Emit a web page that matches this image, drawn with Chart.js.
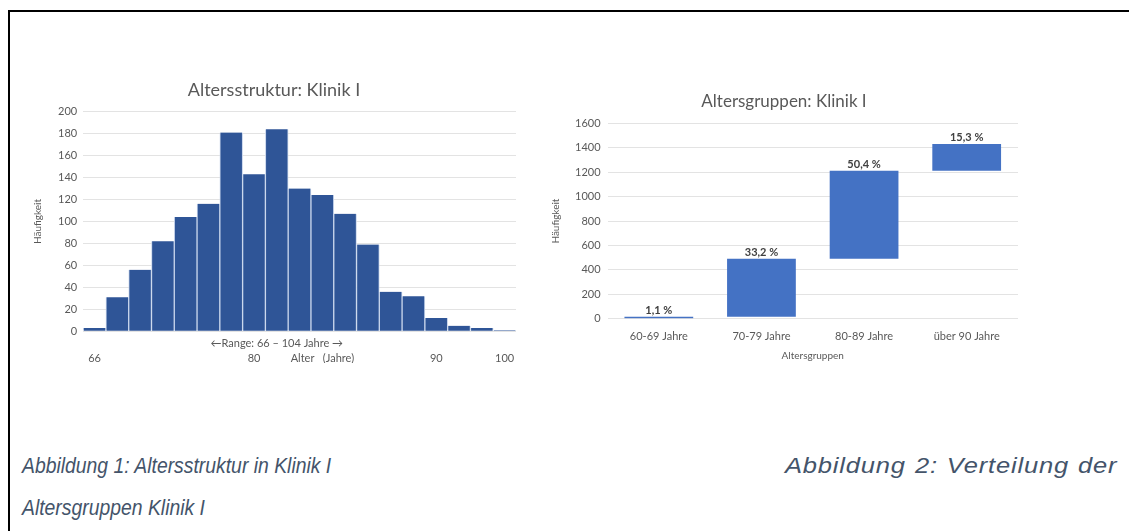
<!DOCTYPE html>
<html>
<head>
<meta charset="utf-8">
<script src="https://cdn.jsdelivr.net/npm/chart.js@4"></script>
<style>
  html, body { margin:0; padding:0; background:#fff; width:1129px; height:531px; overflow:hidden; }
  #frame { position:absolute; left:8px; top:10px; width:1130px; height:530px; border-left:2px solid #000; border-top:2px solid #000; }
  canvas { position:absolute; }
  #c1 { left:32px; top:78px; }
  #c2 { left:550px; top:89px; }
  .cap { position:absolute; font-family:"Liberation Sans", Arial, sans-serif; font-style:italic; font-size:22px; line-height:26px; color:#44546A; white-space:nowrap; transform-origin:left top; transform:scaleX(0.88); }
  #cap2 { transform:scaleX(1.16); font-size:22px; letter-spacing:0.7px; word-spacing:1px; }
</style>
</head>
<body>
<div id="frame"></div>
<canvas id="c1" width="490" height="285"></canvas>
<canvas id="c2" width="480" height="277"></canvas>
<div class="cap" style="left:22px; top:453px;">Abbildung 1: Altersstruktur in Klinik I</div>
<div class="cap" id="cap2" style="left:785px; top:453px;">Abbildung 2: Verteilung der</div>
<div class="cap" style="left:22px; top:495px;">Altersgruppen Klinik I</div>
<script>
// ---- Chart 1: Altersstruktur (histogram) ----
const histBins = ["66","68","70","72","74","76","78","80","82","84","86","88","90","92","94","96","98","100","102"];
const histCounts = [3, 31, 56, 82, 104, 116, 181, 143, 184, 130, 124, 107, 79, 36, 32, 12, 5, 3, 1];
const histTickTop = ["","","","","","","","","←Range: 66 – 104 Jahre →","","","","","","","","","",""];
const histTickBottom = ["66","","","","","","","80","","","Alter   (Jahre)","","","","","90","","","100"];
const histYTicks = [0,20,40,60,80,100,120,140,160,180,200];

// ---- Chart 2: Altersgruppen (waterfall) ----
const groupLabels = ["60-69 Jahre","70-79 Jahre","80-89 Jahre","über 90 Jahre"];
const groupCounts = [16, 475, 721, 219];
const groupPercent = ["1,1 %","33,2 %","50,4 %","15,3 %"];
const groupYTicks = [0,200,400,600,800,1000,1200,1400,1600];

const FONT = "Lato, 'Open Sans', sans-serif";
const GRAY = "#595959";
Chart.defaults.font.family = FONT;
Chart.defaults.color = GRAY;

new Chart(document.getElementById('c1'), {
  type: 'bar',
  data: {
    labels: histBins,
    datasets: [{
      data: histCounts,
      backgroundColor: '#2F5597',
      borderColor: '#c9d6ec',
      borderWidth: {left:1, right:1, top:0, bottom:0},
      barPercentage: 1.0,
      categoryPercentage: 1.0
    }]
  },
  options: {
    responsive: false,
    animation: false,
    layout: { padding: { left: 0, right: 6, top: 0, bottom: 0 } },
    plugins: {
      legend: { display: false },
      tooltip: { enabled: false },
      title: { display: true, text: 'Altersstruktur: Klinik I', color: GRAY, font: { size: 18, weight: 'normal' }, padding: { top: 1, bottom: 11 } }
    },
    scales: {
      x: {
        grid: { display: false },
        border: { display: false },
        ticks: {
          autoSkip: false, maxRotation: 0, minRotation: 0, padding: -3,
          color: GRAY, font: { size: 11, lineHeight: 1.35 },
          callback: (v, i) => [histTickTop[i], histTickBottom[i]]
        }
      },
      y: {
        min: 0, max: 200,
        afterBuildTicks: (ax) => { ax.ticks = histYTicks.map(v => ({ value: v })); },
        grid: { color: '#e3e3e3', drawTicks: false },
        border: { display: false },
        ticks: { color: GRAY, font: { size: 11 }, padding: 6 },
        title: { display: true, text: 'Häufigkeit', color: GRAY, font: { size: 10 }, padding: { top: 0, bottom: 8 } }
      }
    }
  }
});

// build floating bars from counts
const floating = [];
let cum = 0;
groupCounts.forEach(c => { floating.push([cum, cum + c]); cum += c; });

const valueLabels = {
  id: 'valueLabels',
  afterDatasetsDraw(chart) {
    const ctx = chart.ctx;
    const meta = chart.getDatasetMeta(0);
    ctx.save();
    ctx.font = "bold 11px " + FONT;
    ctx.fillStyle = '#404040';
    ctx.textAlign = 'center';
    ctx.textBaseline = 'bottom';
    meta.data.forEach((el, i) => {
      const top = Math.min(el.y, el.base);
      ctx.fillText(groupPercent[i], el.x, top - 1);
    });
    ctx.restore();
  }
};

new Chart(document.getElementById('c2'), {
  type: 'bar',
  data: {
    labels: groupLabels,
    datasets: [{
      data: floating,
      backgroundColor: '#4472C4',
      borderSkipped: false,
      barPercentage: 0.67,
      categoryPercentage: 1.0
    }]
  },
  options: {
    responsive: false,
    animation: false,
    layout: { padding: { left: 0, right: 12, top: 0, bottom: 0 } },
    plugins: {
      legend: { display: false },
      tooltip: { enabled: false },
      title: { display: true, text: 'Altersgruppen: Klinik I', color: GRAY, font: { size: 17, weight: 'normal' }, padding: { top: 2, bottom: 12 } }
    },
    scales: {
      x: {
        grid: { display: false },
        border: { display: false },
        ticks: { color: GRAY, font: { size: 11 }, padding: 3 },
        title: { display: true, text: 'Altersgruppen', color: GRAY, font: { size: 10 }, padding: { top: 4 } }
      },
      y: {
        min: 0, max: 1600,
        afterBuildTicks: (ax) => { ax.ticks = groupYTicks.map(v => ({ value: v })); },
        ticks: { color: GRAY, font: { size: 11 }, padding: 7, callback: (v) => String(v) },
        grid: { color: '#e3e3e3', drawTicks: false },
        border: { display: false },
        title: { display: true, text: 'Häufigkeit', color: GRAY, font: { size: 10 }, padding: { top: 0, bottom: 6 } }
      }
    }
  },
  plugins: [valueLabels]
});
</script>
</body>
</html>
